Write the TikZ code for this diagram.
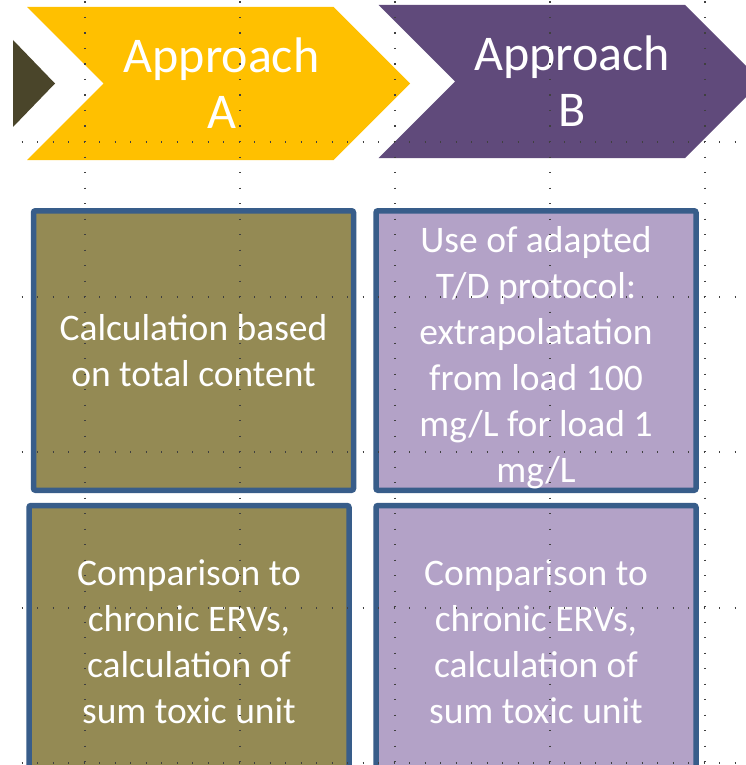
\documentclass[tikz,border=0pt]{standalone}
\usepackage{fontspec}
\setmainfont{Carlito}
\usetikzlibrary{shapes.symbols, positioning}

\definecolor{chevgold}{HTML}{FFC000}
\definecolor{chevplum}{HTML}{604A7B}
\definecolor{chevdark}{HTML}{4A452A}
\definecolor{boxolive}{HTML}{948A54}
\definecolor{boxlilac}{HTML}{B3A2C7}
\definecolor{boxedge}{HTML}{385D8A}

\tikzset{
    chevron/.style={signal, signal from=west, signal to=east, signal pointer angle=90, minimum width=383pt, minimum height=153pt, inner sep=0pt},
    steptext/.style={align=center, text=white, font=\fontsize{50}{56}\selectfont},
    card/.style={rectangle, draw=boxedge, line width=5.5pt, rounded corners=2pt, minimum width=320pt, align=center, text=white, font=\fontsize{37.5}{46}\selectfont},
    guide/.style={gray!50!black, line width=1.3pt, dash pattern=on 1.3pt off 14.2pt},
}

\begin{document}
\begin{tikzpicture}[x=1pt, y=-1pt]
    \useasboundingbox (0,0) rectangle (746,765);
    \clip (0,0) rectangle (746,765);
    \fill[white] (0,0) rectangle (746,765);
    % tail of the step before
    \fill[chevdark] (13,40) -- (55,83.5) -- (13,127) -- cycle;
    \node[chevron, fill=chevgold] (stepA) at (218.5,83.5) {};
    \node[steptext] (titleA) at ([xshift=3pt]stepA.center) {Approach\\A};
    \node[chevron, fill=chevplum] (stepB) at (570,81.5) {};
    \node[steptext] (titleB) at ([xshift=2pt]stepB.center) {Approach\\B};
    % first row
    \node[card, fill=boxolive, minimum height=279.5pt] (calcA) at (193.5,350.5) {Calculation based\\on total content};
    \node[card, fill=boxlilac, minimum height=279.5pt] (calcB) at (536,350.5) {};
    \node[card, draw=none, fill=none] (calcBtext) at ([yshift=-7pt]calcB.center) {Use of adapted\\T/D protocol:\\extrapolatation\\from load 100\\mg/L for load 1\\mg/L};
    % second row, runs off the bottom
    \node[card, fill=boxolive, minimum height=272pt] (compA) at (189,641.5) {Comparison to\\chronic ERVs,\\calculation of\\sum toxic unit};
    \node[card, fill=boxlilac, minimum height=272pt] (compB) at (536,641.5) {Comparison to\\chronic ERVs,\\calculation of\\sum toxic unit};
    % dotted guides
    \foreach \gx in {85,240,395,550,705}
        \draw[guide] (\gx,1.5) -- (\gx,765);
    \foreach \gy in {142,297,452,608,763}
        \draw[guide] (21.5,\gy) -- (740,\gy);
\end{tikzpicture}
\end{document}
